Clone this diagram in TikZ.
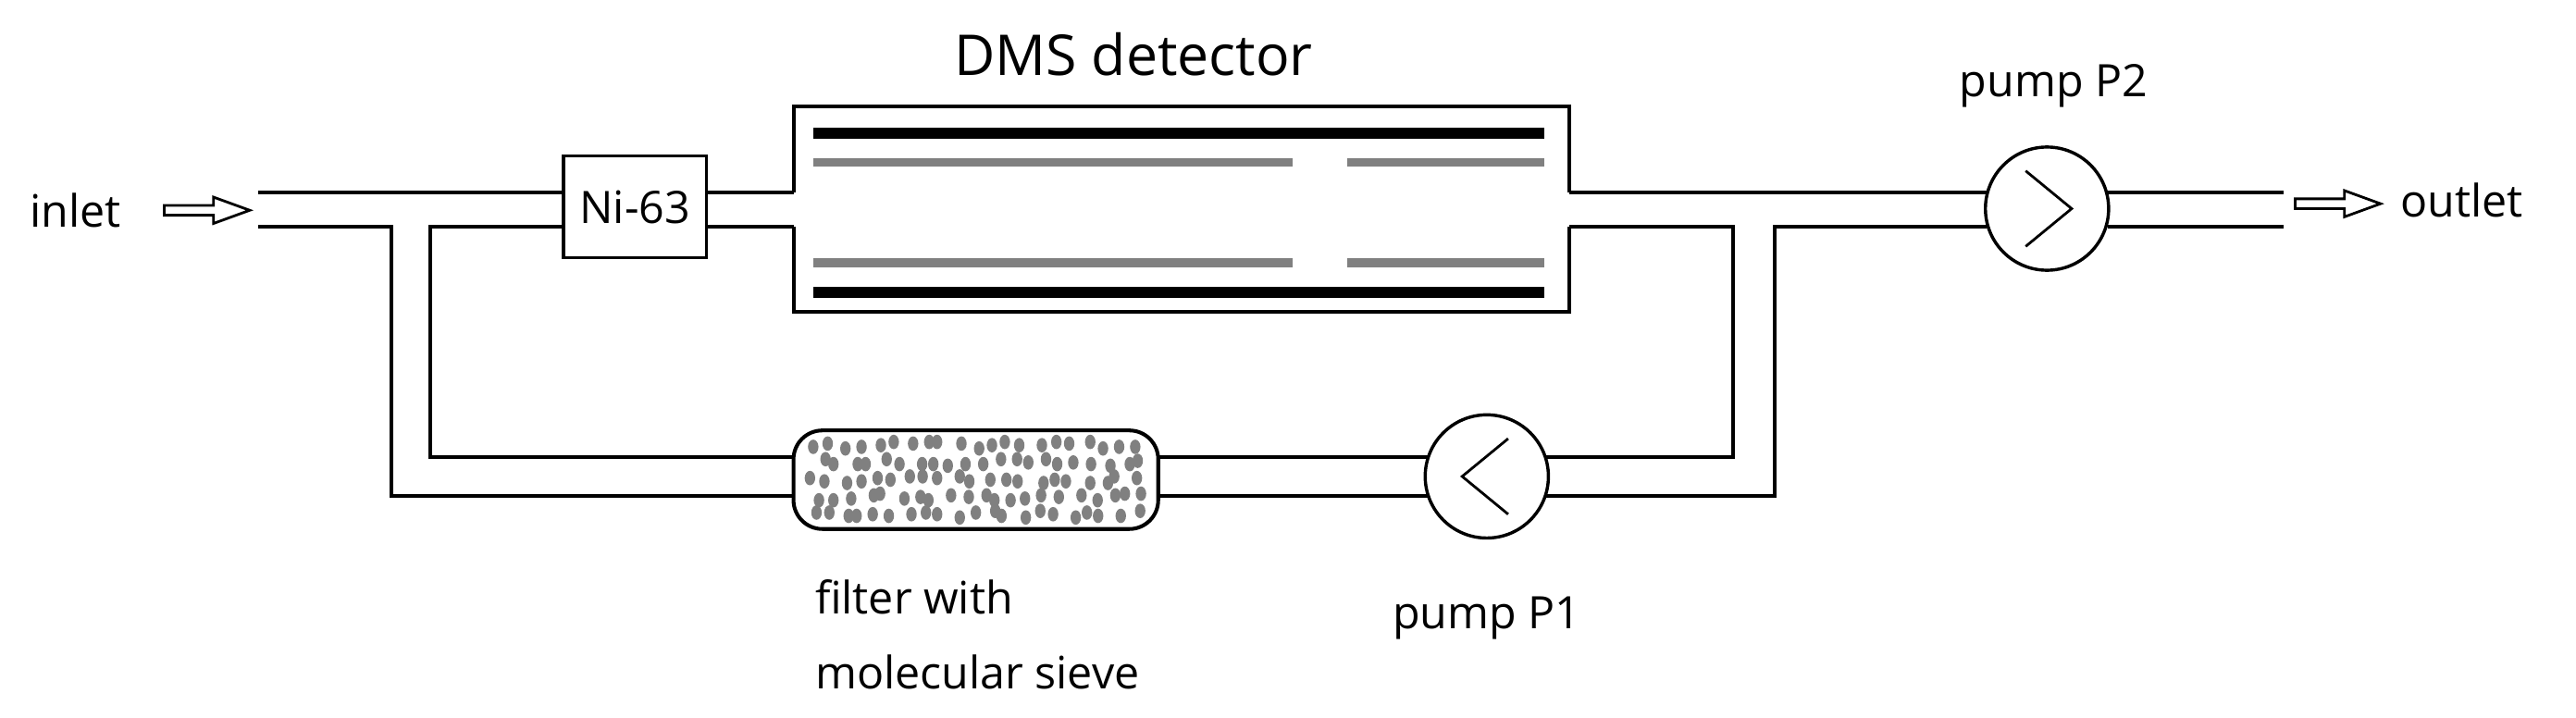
\documentclass[tikz,border=0pt]{standalone}
\usepackage{fontspec}
\setmainfont{Open Sans}
\begin{document}
\begin{tikzpicture}[x=0.02cm,y=-0.02cm,
  pipe/.style={line width=1.3pt},
  pump/.style={circle,draw,line width=1.1pt,minimum size=75*0.02cm,inner sep=0},
  lbl/.style={font=\fontsize{15.5}{18}\selectfont},
  flow/.style={line width=0.9pt}]
\useasboundingbox (0,0) rectangle (1568,437);
% text
\node[lbl,anchor=west] (inl) at (12,128) {inlet};
\node[lbl,anchor=west] (outl) at (1455,122) {outlet};
\node[font=\fontsize{19.5}{22}\selectfont] (dmsl) at (690,33) {DMS detector};
\node[lbl] (p2l) at (1250,52) {pump P2};
\node[lbl] (p1l) at (905,376) {pump P1};
\node[lbl,anchor=west,align=left] (fl) at (490,386) {filter with\\[8pt]molecular sieve};
% flow arrows
\draw[flow] (100,125)--(130,125)--(130,120)--(152,128)--(130,136)--(130,131)--(100,131)--cycle;
\draw[flow] (1397,121)--(1427,121)--(1427,116)--(1449,124)--(1427,132)--(1427,127)--(1397,127)--cycle;
% Ni-63
\node[draw,line width=1.1pt,minimum width=87*0.02cm,minimum height=62*0.02cm,lbl,inner sep=0] (ni) at (386.5,126) {Ni-63};
% detector
\draw[pipe] (483,117)--(483,65)--(955,65)--(955,117);
\draw[pipe] (483,138)--(483,190)--(955,190)--(955,138);
\draw[line width=4pt] (495,81)--(940,81) (495,178)--(940,178);
\draw[line width=3pt,gray] (495,99)--(787,99) (820,99)--(940,99) (495,160)--(787,160) (820,160)--(940,160);
% pumps
\node[pump] (p2) at (1246,127) {};
\draw[line width=0.9pt] (1233,104)--(1261,127)--(1233,150);
\node[pump] (p1) at (905,290) {};
\draw[line width=0.9pt] (918,267)--(890,290)--(918,313);
% filter
\draw[pipe,rounded corners=10pt] (483,262) rectangle (705,322);
\node[inner sep=0,minimum width=222*0.02cm,minimum height=60*0.02cm] (filt) at (594,292) {};
\pgfmathsetseed{11}
\foreach \c in {0,...,20}{
  \foreach \r in {0,...,4}{
    \pgfmathsetmacro{\xx}{495+\c*9.8+random(-3,3)+mod(\r,2)*4.5}
    \pgfmathsetmacro{\yy}{271+\r*10.5+random(-2,2)}
    \fill[gray] (\xx,\yy) ellipse (3.2 and 4.4);
  }
}
% pipes
\draw[pipe] (157,117)--(343,117);
\draw[pipe] (157,138)--(238,138)--(238,302)--(483,302);
\draw[pipe] (343,138)--(262,138)--(262,278)--(483,278);
\draw[pipe] (430,117)--(483,117) (430,138)--(483,138);
\draw[pipe] (955,117)--(1209,117);
\draw[pipe] (955,138)--(1055,138)--(1055,278)--(940,278);
\draw[pipe] (1209,138)--(1080,138)--(1080,302)--(940,302);
\draw[pipe] (1283,117)--(1390,117) (1283,138)--(1390,138);
\draw[pipe] (705,278)--(870,278) (705,302)--(870,302);
\end{tikzpicture}
\end{document}
